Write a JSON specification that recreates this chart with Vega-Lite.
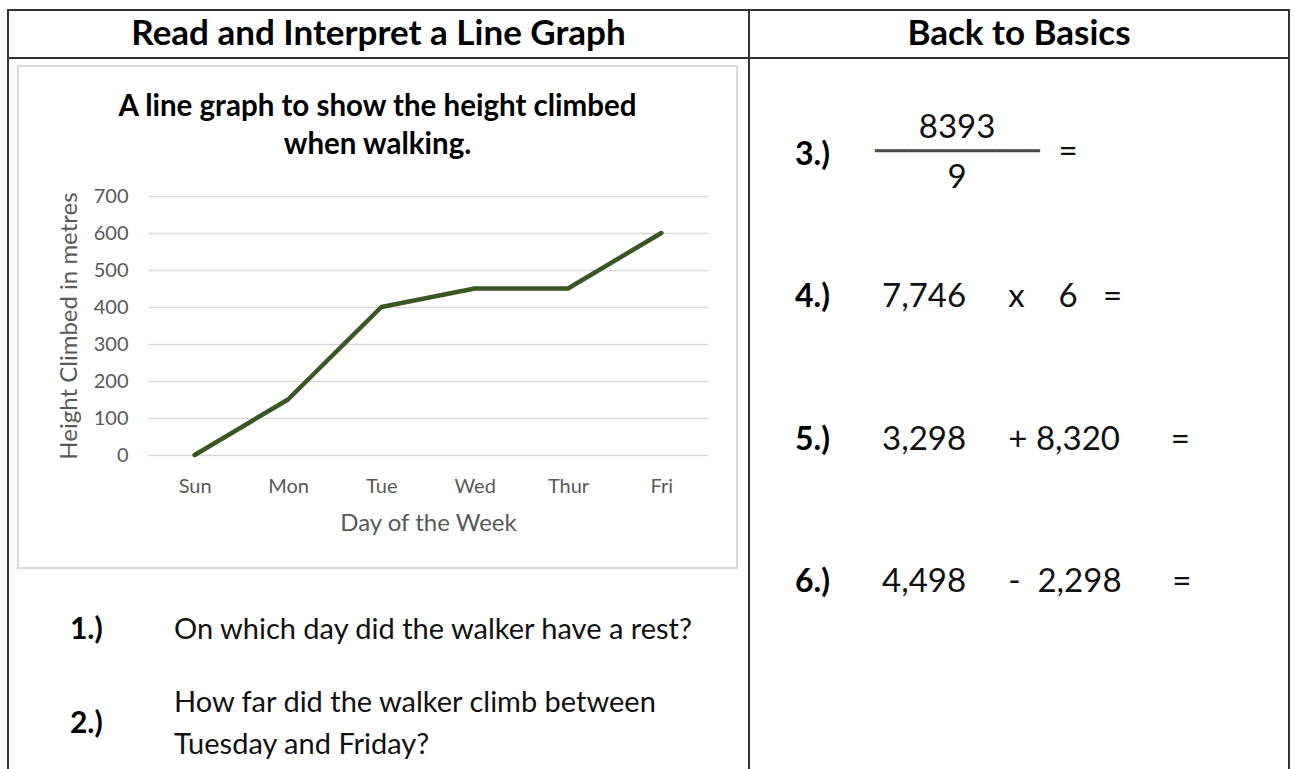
{
  "$schema": "https://vega.github.io/schema/vega-lite/v6.json",
  "background": "white",
  "padding": {"left": 7, "top": 9, "right": 0, "bottom": 0},
  "config": {"font": "Lato", "view": {"stroke": null}},
  "datasets": {
    "walk": [
      {"day": "Sun", "height": 0},
      {"day": "Mon", "height": 150},
      {"day": "Tue", "height": 400},
      {"day": "Wed", "height": 450},
      {"day": "Thur", "height": 450},
      {"day": "Fri", "height": 600}
    ],
    "leftQ": [
      {"row": "1", "part": "label", "text": "1.)"},
      {"row": "1", "part": "text", "text": "On which day did the walker have a rest?"},
      {"row": "2", "part": "label", "text": "2.)"},
      {"row": "2", "part": "text", "text": "How far did the walker climb between\nTuesday and Friday?"}
    ],
    "rightQ": [
      {"row": "3", "part": "label", "text": "3.)"},
      {"row": "3", "part": "num", "text": "8393"},
      {"row": "3", "part": "bar", "text": "━━━━━━━━━━━━━━━"},
      {"row": "3", "part": "den", "text": "9"},
      {"row": "3", "part": "eq", "text": "="},
      {"row": "4", "part": "label", "text": "4.)"},
      {"row": "4", "part": "expr", "text": "7,746\u00a0\u00a0\u00a0\u00a0\u00a0x\u00a0\u00a0\u00a0\u00a06\u00a0\u00a0\u00a0="},
      {"row": "5", "part": "label", "text": "5.)"},
      {"row": "5", "part": "expr", "text": "3,298\u00a0\u00a0\u00a0\u00a0\u00a0+\u00a08,320\u00a0\u00a0\u00a0\u00a0\u00a0\u00a0="},
      {"row": "6", "part": "label", "text": "6.)"},
      {"row": "6", "part": "expr", "text": "4,498\u00a0\u00a0\u00a0\u00a0\u00a0-\u00a0\u00a02,298\u00a0\u00a0\u00a0\u00a0\u00a0\u00a0="}
    ]
  },
  "spacing": 0,
  "vconcat": [
    {"width": 1283, "height": 2, "data": {"values": []}, "mark": "point", "encoding": {}, "view": {"fill": "#333333", "stroke": null}},
    {
      "spacing": 0,
      "hconcat": [
        {"width": 2, "height": 46, "data": {"values": []}, "mark": "point", "encoding": {}, "view": {"fill": "#333333", "stroke": null}},
        {"width": 739, "height": 46, "data": {"values": [{"t": "Read and Interpret a Line Graph"}]}, "mark": {"type": "text", "fontSize": 35, "fontWeight": "bold", "color": "#000000"}, "encoding": {"text": {"field": "t", "type": "nominal"}}, "view": {"fill": "#ffffff", "stroke": null}},
        {"width": 2, "height": 46, "data": {"values": []}, "mark": "point", "encoding": {}, "view": {"fill": "#333333", "stroke": null}},
        {"width": 538, "height": 46, "data": {"values": [{"t": "Back to Basics"}]}, "mark": {"type": "text", "fontSize": 35, "fontWeight": "bold", "color": "#000000"}, "encoding": {"text": {"field": "t", "type": "nominal"}}, "view": {"fill": "#ffffff", "stroke": null}},
        {"width": 2, "height": 46, "data": {"values": []}, "mark": "point", "encoding": {}, "view": {"fill": "#333333", "stroke": null}}
      ]
    },
    {"width": 1283, "height": 2, "data": {"values": []}, "mark": "point", "encoding": {}, "view": {"fill": "#333333", "stroke": null}},
    {
      "spacing": 0,
      "hconcat": [
        {"width": 2, "height": 710, "data": {"values": []}, "mark": "point", "encoding": {}, "view": {"fill": "#333333", "stroke": null}},
        {
          "spacing": 0,
          "vconcat": [
            {"width": 739, "height": 6, "data": {"values": []}, "mark": "point", "encoding": {}, "view": {"fill": "#ffffff", "stroke": null}},
            {
              "spacing": 0,
              "hconcat": [
                {"width": 8, "height": 504, "data": {"values": []}, "mark": "point", "encoding": {}, "view": {"fill": "#ffffff", "stroke": null}},
                {
                  "spacing": 0,
                  "vconcat": [
                    {"width": 721, "height": 2, "data": {"values": []}, "mark": "point", "encoding": {}, "view": {"fill": "#d9d9d9", "stroke": null}},
                    {
                      "spacing": 0,
                      "hconcat": [
                        {"width": 2, "height": 500, "data": {"values": []}, "mark": "point", "encoding": {}, "view": {"fill": "#d9d9d9", "stroke": null}},
                        {
                          "spacing": 1,
                          "vconcat": [
                            {
                              "width": 717, "height": 118,
                              "data": {"values": [{"t": "A line graph to show the height climbed\nwhen walking."}]},
                              "mark": {"type": "text", "fontSize": 29.5, "fontWeight": "bold", "lineBreak": "\n", "lineHeight": 38, "color": "#000000"},
                              "encoding": {
                                "y": {"field": "t", "type": "nominal", "scale": {"type": "point", "align": 0.339}, "axis": null},
                                "text": {"field": "t", "type": "nominal"}
                              },
                              "view": {"fill": "#ffffff", "stroke": null}
                            },
                            {
                              "bounds": "flush",
                              "spacing": 0,
                              "hconcat": [
                                {"width": 129, "height": 259, "data": {"values": []}, "mark": "point", "encoding": {}, "view": {"fill": "#ffffff", "stroke": null}},
                                {
                                  "width": 560,
                                  "height": 259,
                                  "data": {"name": "walk"},
                                  "mark": {"type": "line", "color": "#385723", "strokeWidth": 4.5, "strokeJoin": "round", "strokeCap": "round"},
                                  "encoding": {
                                    "x": {
                                      "field": "day", "type": "ordinal",
                                      "sort": ["Sun", "Mon", "Tue", "Wed", "Thur", "Fri"],
                                      "scale": {"type": "point", "padding": 0.5},
                                      "axis": {"title": "Day of the Week", "labelAngle": 0, "ticks": false, "domain": false, "grid": false, "labelFontSize": 20, "labelColor": "#595959", "labelPadding": 21, "titleFontSize": 24, "titleColor": "#595959", "titleFontWeight": "normal", "titlePadding": 15}
                                    },
                                    "y": {
                                      "field": "height", "type": "quantitative",
                                      "scale": {"domain": [0, 700], "nice": false},
                                      "axis": {"title": "Height Climbed in metres", "values": [0, 100, 200, 300, 400, 500, 600, 700], "ticks": false, "domain": false, "gridColor": "#d9d9d9", "gridWidth": 1.5, "labelFontSize": 20, "labelColor": "#595959", "labelPadding": 20, "titleFontSize": 24, "titleColor": "#595959", "titleFontWeight": "normal", "titlePadding": 12}
                                    }
                                  }
                                }
                              ]
                            }
                          ]
                        },
                        {"width": 2, "height": 500, "data": {"values": []}, "mark": "point", "encoding": {}, "view": {"fill": "#d9d9d9", "stroke": null}}
                      ]
                    },
                    {"width": 721, "height": 2, "data": {"values": []}, "mark": "point", "encoding": {}, "view": {"fill": "#d9d9d9", "stroke": null}}
                  ]
                }
              ]
            },
            {
              "width": 739,
              "height": 200,
              "data": {"name": "leftQ"},
              "view": {"fill": "#ffffff", "stroke": null},
              "layer": [
                {
                  "transform": [{"filter": "datum.part === 'label'"}],
                  "mark": {"type": "text", "align": "left", "fontSize": 30, "fontWeight": "bold", "color": "#000000"},
                  "encoding": {
                    "x": {"field": "part", "type": "nominal", "scale": {"type": "point", "domain": ["label"], "align": 0.0825}, "axis": null},
                    "y": {"field": "row", "type": "ordinal", "scale": {"type": "point", "domain": ["1", "2"], "padding": 0.564, "align": 0.5755}, "axis": null},
                    "text": {"field": "text", "type": "nominal"}
                  }
                },
                {
                  "transform": [{"filter": "datum.part === 'text'"}],
                  "mark": {"type": "text", "align": "left", "fontSize": 29, "lineBreak": "\n", "lineHeight": 42, "color": "#111111"},
                  "encoding": {
                    "x": {"field": "part", "type": "nominal", "scale": {"type": "point", "domain": ["text"], "align": 0.2233}, "axis": null},
                    "y": {"field": "row", "type": "ordinal", "scale": {"type": "point", "domain": ["1", "2"], "padding": 0.87, "align": 0.48}, "axis": null},
                    "text": {"field": "text", "type": "nominal"}
                  }
                }
              ],
              "resolve": {"scale": {"x": "independent", "y": "independent"}}
            }
          ]
        },
        {"width": 2, "height": 710, "data": {"values": []}, "mark": "point", "encoding": {}, "view": {"fill": "#333333", "stroke": null}},
        {
          "width": 538,
          "height": 710,
          "data": {"name": "rightQ"},
          "view": {"fill": "#ffffff", "stroke": null},
          "layer": [
            {
              "transform": [{"filter": "datum.part === 'label'"}],
              "mark": {"type": "text", "align": "left", "fontSize": 32, "fontWeight": "bold", "color": "#000000"},
              "encoding": {
                "x": {"field": "part", "type": "nominal", "scale": {"type": "point", "domain": ["label"], "align": 0.0836}, "axis": null},
                "y": {"field": "row", "type": "ordinal", "scale": {"type": "point", "domain": ["3", "4", "5", "6"], "padding": 0.994, "align": 0.339}, "axis": null},
                "text": {"field": "text", "type": "nominal"}
              }
            },
            {
              "transform": [{"filter": "datum.part === 'expr'"}],
              "mark": {"type": "text", "align": "left", "fontSize": 33, "color": "#111111"},
              "encoding": {
                "x": {"field": "part", "type": "nominal", "scale": {"type": "point", "domain": ["expr"], "align": 0.2454}, "axis": null},
                "y": {"field": "row", "type": "ordinal", "scale": {"type": "point", "domain": ["3", "4", "5", "6"], "padding": 0.994, "align": 0.339}, "axis": null},
                "text": {"field": "text", "type": "nominal"}
              }
            },
            {
              "transform": [{"filter": "datum.part === 'num'"}],
              "mark": {"type": "text", "align": "center", "fontSize": 33, "color": "#111111"},
              "encoding": {
                "x": {"field": "part", "type": "nominal", "scale": {"type": "point", "domain": ["num"], "align": 0.3848}, "axis": null},
                "y": {"field": "part", "type": "nominal", "scale": {"type": "point", "domain": ["num"], "align": 0.0972}, "axis": null},
                "text": {"field": "text", "type": "nominal"}
              }
            },
            {
              "transform": [{"filter": "datum.part === 'den'"}],
              "mark": {"type": "text", "align": "center", "fontSize": 33, "color": "#111111"},
              "encoding": {
                "x": {"field": "part", "type": "nominal", "scale": {"type": "point", "domain": ["den"], "align": 0.3848}, "axis": null},
                "y": {"field": "part", "type": "nominal", "scale": {"type": "point", "domain": ["den"], "align": 0.1676}, "axis": null},
                "text": {"field": "text", "type": "nominal"}
              }
            },
            {
              "transform": [{"filter": "datum.part === 'eq'"}],
              "mark": {"type": "text", "align": "center", "fontSize": 33, "color": "#111111"},
              "encoding": {
                "x": {"field": "part", "type": "nominal", "scale": {"type": "point", "domain": ["eq"], "align": 0.591}, "axis": null},
                "y": {"field": "part", "type": "nominal", "scale": {"type": "point", "domain": ["eq"], "align": 0.131}, "axis": null},
                "text": {"field": "text", "type": "nominal"}
              }
            },
            {
              "transform": [{"filter": "datum.part === 'bar'"}],
              "mark": {"type": "text", "align": "center", "fontSize": 18, "color": "#4a4a4a"},
              "encoding": {
                "x": {"field": "part", "type": "nominal", "scale": {"type": "point", "domain": ["bar"], "align": 0.3848}, "axis": null},
                "y": {"field": "part", "type": "nominal", "scale": {"type": "point", "domain": ["bar"], "align": 0.131}, "axis": null},
                "text": {"field": "text", "type": "nominal"}
              }
            }
          ],
          "resolve": {"scale": {"x": "independent", "y": "independent"}}
        },
        {"width": 2, "height": 710, "data": {"values": []}, "mark": "point", "encoding": {}, "view": {"fill": "#333333", "stroke": null}}
      ]
    }
  ]
}
